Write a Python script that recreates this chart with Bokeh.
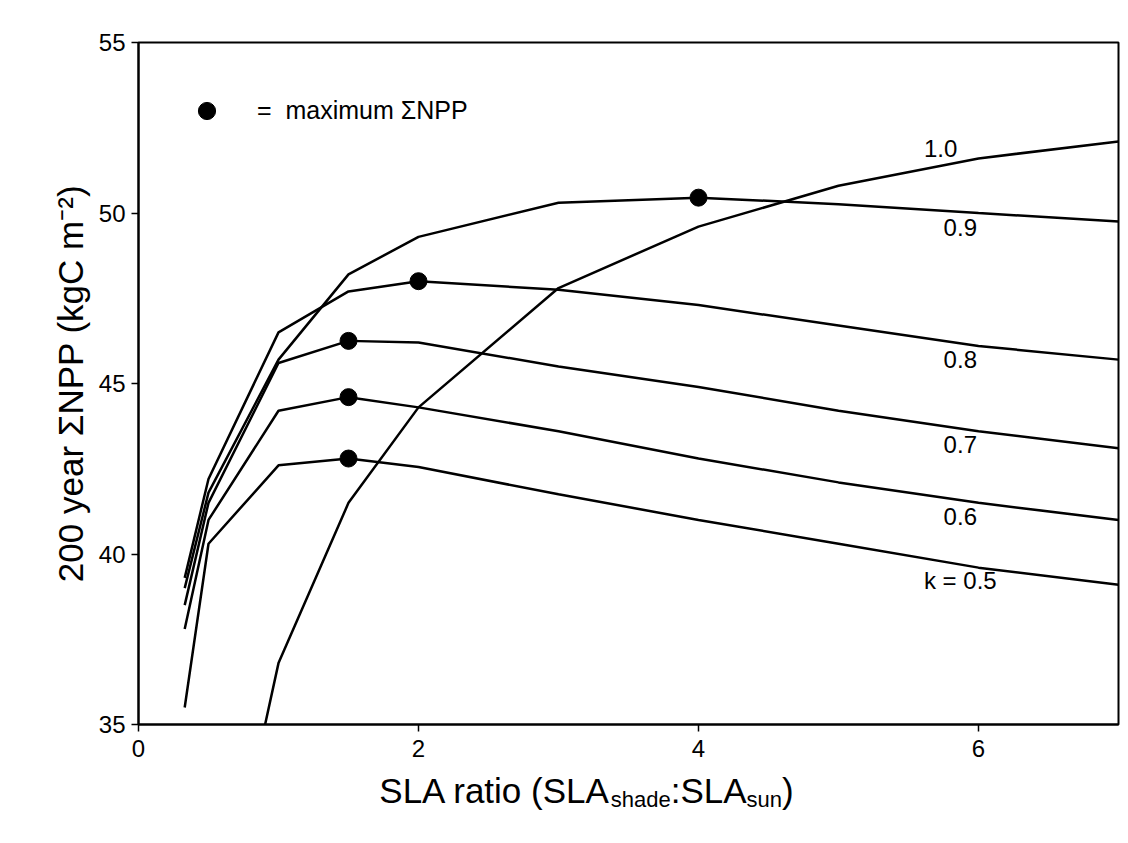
import numpy as np
from bokeh.plotting import figure
from bokeh.layouts import column
from bokeh.models import Legend, LegendItem, FixedTicker
from bokeh.core.properties import value
from bokeh.embed import file_html
from bokeh.resources import INLINE

# ---------------- data ----------------
sla_ratio = [0.33, 0.5, 1.0, 1.5, 2.0, 3.0, 4.0, 5.0, 6.0, 7.0]
npp_k05 = [35.5, 40.3, 42.6, 42.8, 42.55, 41.75, 41.0, 40.3, 39.6, 39.1]
npp_k06 = [37.8, 41.0, 44.2, 44.6, 44.3, 43.6, 42.8, 42.1, 41.5, 41.0]
npp_k07 = [38.5, 41.5, 45.6, 46.25, 46.2, 45.5, 44.9, 44.2, 43.6, 43.1]
npp_k08 = [39.3, 42.2, 46.5, 47.7, 48.0, 47.75, 47.3, 46.7, 46.1, 45.7]
npp_k09 = [39.0, 41.8, 45.7, 48.2, 49.3, 50.3, 50.45, 50.26, 50.0, 49.75]
npp_k10 = [23.5, 27.4, 36.8, 41.5, 44.3, 47.8, 49.6, 50.8, 51.6, 52.1]

series = [npp_k05, npp_k06, npp_k07, npp_k08, npp_k09, npp_k10]
curve_labels = ["k = 0.5", "0.6", "0.7", "0.8", "0.9", "1.0"]
x_ticks = [0, 2, 4, 6]
y_ticks = [35, 40, 45, 50, 55]

FONT = "Liberation Sans"
W_PX, H_PX = 1128, 843
TITLE_H = 74                      # strip below the chart holding the x title
LEFT, RIGHT, TOP = 138, 10, 42
MAIN_H = H_PX - TITLE_H
BOTTOM = MAIN_H - 724
X_MAX = 7

p = figure(width=W_PX, height=MAIN_H, x_range=(0, X_MAX), y_range=(35, 55),
           output_backend="svg", toolbar_location=None,
           min_border_left=LEFT, min_border_right=RIGHT,
           min_border_top=TOP, min_border_bottom=BOTTOM)
p.grid.visible = False
p.background_fill_color = "white"
p.border_fill_color = "white"
p.outline_line_color = "black"
p.outline_line_width = 2
p.outline_line_alpha = 1

p.xaxis.ticker = FixedTicker(ticks=x_ticks)
p.yaxis.ticker = FixedTicker(ticks=y_ticks)
for ax in (p.xaxis[0], p.yaxis[0]):
    ax.axis_line_color = "black"
    ax.axis_line_width = 2
    ax.major_tick_line_color = "black"
    ax.major_tick_line_width = 1.5
    ax.major_tick_in = 0
    ax.major_tick_out = 7
    ax.minor_tick_in = 0
    ax.minor_tick_out = 0
    ax.major_label_text_font = FONT
    ax.major_label_text_font_size = "24px"
    ax.major_label_text_color = "black"
p.xaxis.major_label_standoff = 8
p.yaxis.major_label_standoff = 6

p.yaxis.axis_label = "200 year \u03a3NPP (kgC m\u207b\u00b2)"
p.yaxis.axis_label_text_font = FONT
p.yaxis.axis_label_text_font_size = "35px"
p.yaxis.axis_label_text_font_style = "normal"
p.yaxis.axis_label_text_color = "black"
p.yaxis.axis_label_standoff = 6

# ---------------- curves ----------------
for ys in series:
    p.line(sla_ratio, ys, line_width=2.5, line_color="black")

# maxima (k = 0.5 ... 0.9)
max_x, max_y = [], []
for ys in series[:5]:
    i = int(np.argmax(ys))
    max_x.append(sla_ratio[i])
    max_y.append(ys[i])
dots = p.scatter(max_x, max_y, size=17, fill_color="black", line_color="black")

# curve labels, placed just below / above each curve near its right end
lab_x, lab_y = [], []
for ys, lab in zip(series, curve_labels):
    if lab == "1.0":
        lx = 5.73
        lab_x.append(lx)
        lab_y.append(float(np.interp(lx, sla_ratio, ys)) + 0.5)
    else:
        lx = 5.87
        lab_x.append(lx)
        lab_y.append(float(np.interp(lx, sla_ratio, ys)) - 0.47)
p.text(x=lab_x, y=lab_y, text=curve_labels, text_font=value(FONT),
       text_font_size="24px", text_align="center", text_baseline="middle",
       text_color="black")

# legend: "● = maximum ΣNPP"
legend = Legend(items=[LegendItem(label="=  maximum \u03a3NPP", renderers=[dots])],
                location=(47, 592), border_line_color=None,
                background_fill_alpha=0, padding=0, margin=0,
                glyph_width=43, glyph_height=43, label_standoff=29,
                label_text_font=FONT, label_text_font_size="25px",
                label_text_color="black")
p.add_layout(legend)

# ---------------- x-axis title strip (with subscripts) ----------------
# same frame width / x scale as the chart above
t = figure(width=W_PX, height=TITLE_H, x_range=(0, X_MAX), y_range=(0, TITLE_H),
           output_backend="svg", toolbar_location=None,
           x_axis_type=None, y_axis_type=None,
           min_border_left=LEFT, min_border_right=RIGHT,
           min_border_top=0, min_border_bottom=0)
t.grid.visible = False
t.outline_line_color = None
t.background_fill_color = "white"
t.border_fill_color = "white"

W = {"S": 667, "L": 556, "A": 667, " ": 278, "r": 333, "a": 556, "t": 278,
     "i": 222, "o": 556, "(": 333, ")": 333, ":": 278, "s": 500, "h": 556,
     "d": 556, "e": 556, "u": 556, "n": 556}
PX_PER_UNIT = (W_PX - LEFT - RIGHT) / X_MAX

def text_width(s, size):
    return sum(W.get(ch, 556) for ch in s) / 1000.0 * size / PX_PER_UNIT

BIG, SMALL = 35, 22
parts = [("SLA ratio (SLA", BIG), ("shade", SMALL), (":SLA", BIG),
         ("sun", SMALL), (")", BIG)]
total = sum(text_width(s, sz) for s, sz in parts)
x0 = 3.2 - total / 2.0
base_big = TITLE_H - (789.5 - MAIN_H)
base_small = base_big - 9
bx, bt, sx, st = [], [], [], []
for s, sz in parts:
    if sz == BIG:
        bx.append(x0); bt.append(s)
    else:
        sx.append(x0); st.append(s)
    x0 += text_width(s, sz)
t.text(x=bx, y=[base_big] * len(bx), text=bt, text_font=value(FONT),
       text_font_size=f"{BIG}px", text_align="left",
       text_baseline="alphabetic", text_color="black")
t.text(x=sx, y=[base_small] * len(sx), text=st, text_font=value(FONT),
       text_font_size=f"{SMALL}px", text_align="left",
       text_baseline="alphabetic", text_color="black")

layout = column(p, t, spacing=0)
open("out.html", "w").write(file_html(layout, INLINE))
